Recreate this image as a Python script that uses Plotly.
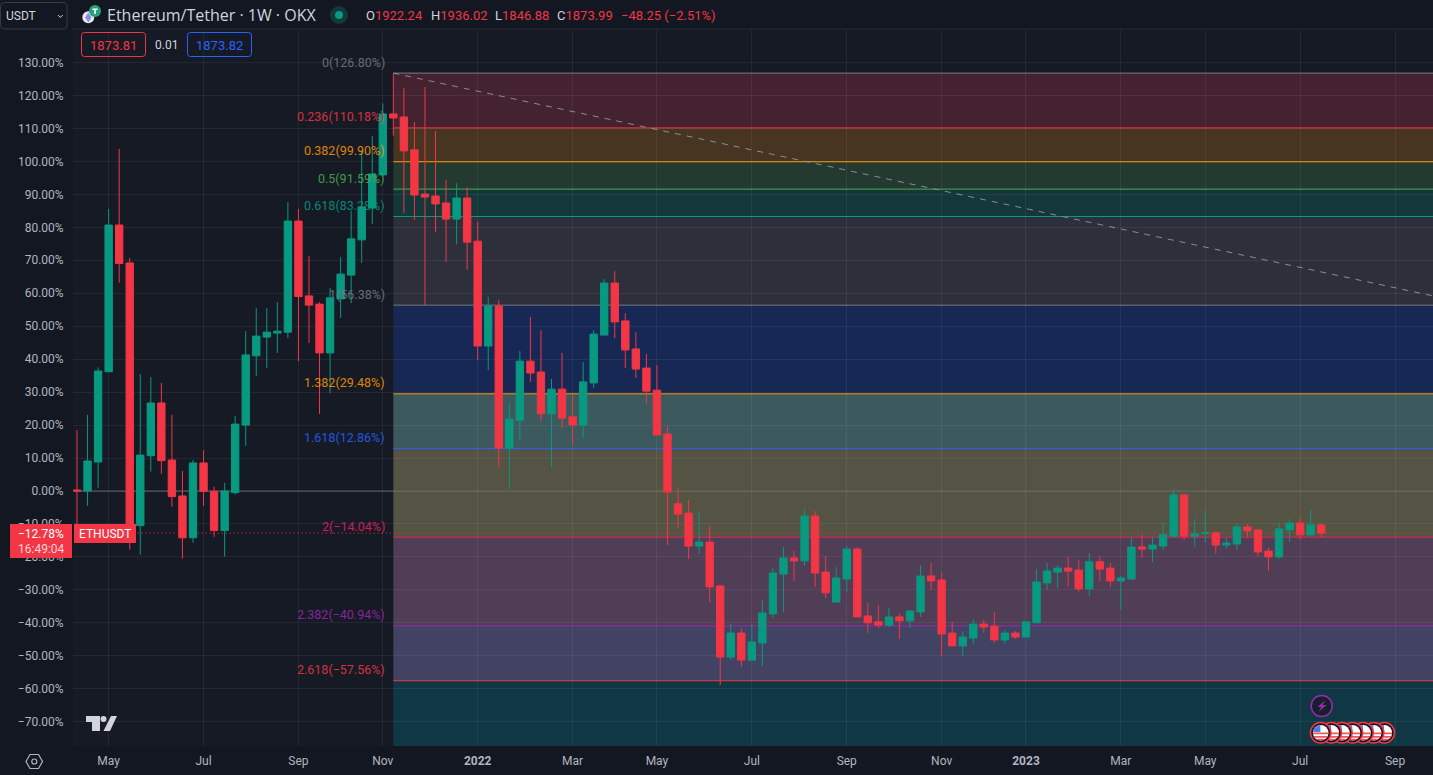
import math

import pandas as pd
import plotly.graph_objects as go

# weekly candles, % change from the first bar
first_week = "2021-04-12"
opens = [0.3, 0, 8.8, 36.2, 80.7, 69.2, -10.5, 10.7, 26.7, 9.4,
         -1.5, -14.2, 8.5, -0.1, -12, -0.5, 20, 41, 46.7, 47.9,
         48.2, 81.9, 59.2, 56.7, 41.9, 58.3, 65.5, 76.2, 85.9, 95.9,
         114.4, 113.5, 103.5, 90.1, 89.5, 87.4, 82.5, 88.9, 75.8, 44,
         56.1, 13, 21.5, 39.4, 36.1, 23.4, 30.9, 22.5, 20, 32.8,
         47.3, 63.1, 51.6, 43.1, 37.3, 30.6, 17.3, -3.9, -6.7, -16.7,
         -15.5, -28.8, -50.4, -43.1, -51.3, -46.1, -37.3, -25.2, -20.3, -21.2,
         -7.6, -24.6, -33.7, -26.7, -17.6, -37.9, -39.7, -40.7, -38.2, -39.4,
         -36.7, -25.8, -27, -43.1, -47, -44.6, -40.4, -41, -45.2, -43.1,
         -44.3, -40, -27.9, -24.6, -23.4, -24, -29.7, -21.5, -23.4, -27.3,
         -26.7, -17, -17.6, -16.7, -13.7, -1.2, -13.7, -12.9, -12.7, -16.4,
         -16.1, -10.9, -11.8, -18.2, -20, -11.8, -9.7, -13.3, -10.3]
highs = [18.5, 23.1, 37.5, 85.6, 103.8, 70.7, 35.5, 34.6, 32.8, 23.1,
         6.1, 9.4, 12.4, 1.3, 2.5, 22.8, 48.5, 55.5, 55.5, 57.3,
         87.7, 85.6, 71.3, 57.3, 61.6, 71, 85, 103.5, 107.7, 117.6,
         126.7, 122.3, 112, 122.6, 109.2, 94.4, 93.4, 92.2, 81.6, 58.9,
         57.9, 26.7, 42.5, 52.8, 48.8, 34, 41.9, 29.1, 39.1, 48.8,
         64.3, 66.7, 54, 48.2, 41.6, 38.2, 19.7, 0.9, -2.7, -6.1,
         -10.6, -28.5, -40.4, -41.6, -40.4, -33.1, -23.4, -17, -18.2, -5.5,
         -6.1, -19.7, -23.1, -16.7, -17, -34, -34.6, -35.5, -37.3, -36.1,
         -22.5, -21.8, -24.9, -39.7, -42.5, -38.8, -39.1, -36.7, -42.2, -42.5,
         -39.4, -23.7, -21.8, -22.5, -20, -20.9, -18.8, -19.7, -21.8, -25.8,
         -14, -13.3, -14, -9.4, 0.6, -0.9, -8.5, -5.8, -12.1, -14,
         -9.7, -10, -11.5, -17.3, -9.7, -8.5, -7.9, -5.5, -9.7]
lows = [-11, -4.5, 1, 36.2, 63.2, -17.8, -19.3, 5.9, 5.2, -4.8,
        -20.5, -15.7, -4.5, -13.9, -19.9, -1.1, 13.7, 34.9, 37.3, 41.9,
        46.4, 39.4, 44.9, 23.4, 29.7, 52.5, 57, 69.2, 81, 95.5,
        107.8, 84.3, 82.2, 56.4, 78.6, 69.5, 74.9, 67.1, 39.7, 36.7,
        7, 0.6, 15.5, 33.1, 21.2, 7.3, 19.1, 14, 16.1, 31.3,
        47.3, 46.4, 37.3, 34.3, 26.4, 17, -16.4, -11.2, -20.6, -19.1,
        -33.7, -58.9, -51.3, -53.4, -51.3, -53.1, -38.5, -36.7, -27.3, -22.8,
        -29.1, -32.5, -33.7, -30.6, -38.2, -43.1, -41.6, -41.3, -44.9, -41.6,
        -38.2, -30, -50.1, -47, -50.1, -46.4, -43.1, -46.1, -46.4, -44.9,
        -44.3, -40, -30, -29.4, -28.8, -30.6, -31.9, -27.3, -29.1, -36.1,
        -27, -20.3, -21.5, -17.9, -14, -14.9, -17, -15.8, -19.1, -17.6,
        -17.9, -14.3, -20, -24.3, -20.6, -15.5, -14.9, -14, -14]
closes = [0, 9.1, 36.4, 80.7, 69, -10.5, 10.9, 26.7, 9.2, -1.7,
          -14.2, 8.5, -0.1, -12, 0, 20.3, 41.3, 47, 48.2, 48.5,
          81.9, 59, 56.4, 41.9, 58.6, 65.8, 76.5, 86.2, 96.2, 114.4,
          113.2, 103.2, 89.8, 89.2, 87.1, 82.5, 88.9, 75.5, 44, 56.1,
          13, 21.8, 39.4, 35.8, 23.4, 30.9, 22.1, 20, 33.1, 47.6,
          63.1, 51.3, 42.8, 37, 30.3, 17, -0.3, -7, -16.7, -15.5,
          -29.1, -50.4, -43.1, -51.3, -45.8, -37, -24.9, -20.3, -21.2, -7.6,
          -24.9, -30.9, -26.4, -17.6, -38.2, -40, -40.7, -38.2, -39.4, -36.4,
          -25.8, -27.3, -43.4, -47, -44.3, -40.4, -41.3, -45.2, -43.1, -44.3,
          -39.7, -27.6, -24.3, -23.4, -24.3, -29.7, -21.5, -23.7, -27.3, -26.4,
          -17, -17.6, -16.4, -13.3, -1.2, -13.7, -13, -12.7, -16.4, -15.8,
          -10.9, -12.1, -18.5, -20, -11.5, -9.7, -13.3, -10.3, -12.8]

# fib levels on the right part of the chart
fib_ratios = ["0", "0.236", "0.382", "0.5", "0.618", "1", "1.382", "1.618", "2", "2.382", "2.618"]
fib_values = [126.80, 110.18, 99.90, 91.59, 83.28, 56.38, 29.48, 12.86, -14.04, -40.94, -57.56]
fib_colors = ["#787B86", "#F23645", "#FF9800", "#4CAF50", "#089981", "#787B86",
              "#FF9800", "#2962FF", "#E91E63", "#9C27B0", "#F23645"]
zone_colors = ["#44222F", "#473521", "#243A30", "#14373A", "#2D303B", "#182854",
               "#3C5A5E", "#545344", "#4F3E55", "#424262", "#103844"]

# axes
y_ticks = list(range(-70, 140, 10))
y_labels = [f"{v:.2f}%".replace("-", "\u2212") for v in y_ticks]
x_ticks = ["2021-05-03", "2021-07-05", "2021-09-06", "2021-11-01", "2022-01-03", "2022-03-07",
           "2022-05-02", "2022-07-04", "2022-09-05", "2022-11-07", "2023-01-02", "2023-03-06",
           "2023-05-01", "2023-07-03", "2023-09-04"]
x_labels = ["May", "Jul", "Sep", "Nov", "<b>2022</b>", "Mar", "May", "Jul", "Sep", "Nov",
            "<b>2023</b>", "Mar", "May", "Jul", "Sep"]

# header readout
ohlc_names = ["O", "H", "L", "C"]
ohlc_values = ["1922.24", "1936.02", "1846.88", "1873.99"]
change_text = "\u221248.25 (\u22122.51%)"

last_pct = -12.78
trend_end = 59.2  # where the dashed line leaves the chart

dates = pd.date_range(first_week, periods=len(closes), freq="7D")
x_left = pd.Timestamp(first_week) - pd.Timedelta(weeks=0.38)
x_right = pd.Timestamp(first_week) + pd.Timedelta(weeks=128.6)
y_top, y_bottom = 139.87, -77.37

W, H = 1433, 775
BG = "#161A25"
AXIS_BG = "#131722"
GRID = "rgba(255,255,255,0.06)"
TEXT = "#B2B5BE"
RED = "#F23645"
GREEN = "#089981"
BLUE = "#2962FF"
FONT = "Roboto"


def px(x):
    return x / W


def py(y):
    return 1 - y / H


shapes = []
notes = []


def poly(points, fill=None, line=None, width=1, close=True):
    path = "M " + " L ".join(f"{px(x):.5f} {py(y):.5f}" for x, y in points) + (" Z" if close else "")
    shapes.append(dict(type="path", path=path, xref="paper", yref="paper", layer="above",
                       fillcolor=fill, line=dict(color=line or "rgba(0,0,0,0)", width=width)))


def disc(x, y, r, fill=None, line=None, width=1):
    shapes.append(dict(type="circle", xref="paper", yref="paper", layer="above",
                       x0=px(x - r), x1=px(x + r), y0=py(y + r), y1=py(y - r),
                       fillcolor=fill, line=dict(color=line or "rgba(0,0,0,0)", width=width)))


def rbox(x0, y0, x1, y1, r=3, fill=None, line=None):
    path = (f"M {px(x0 + r):.5f} {py(y0):.5f} L {px(x1 - r):.5f} {py(y0):.5f} "
            f"Q {px(x1):.5f} {py(y0):.5f} {px(x1):.5f} {py(y0 + r):.5f} "
            f"L {px(x1):.5f} {py(y1 - r):.5f} Q {px(x1):.5f} {py(y1):.5f} {px(x1 - r):.5f} {py(y1):.5f} "
            f"L {px(x0 + r):.5f} {py(y1):.5f} Q {px(x0):.5f} {py(y1):.5f} {px(x0):.5f} {py(y1 - r):.5f} "
            f"L {px(x0):.5f} {py(y0 + r):.5f} Q {px(x0):.5f} {py(y0):.5f} {px(x0 + r):.5f} {py(y0):.5f} Z")
    shapes.append(dict(type="path", path=path, xref="paper", yref="paper", layer="above",
                       fillcolor=fill, line=dict(color=line or "rgba(0,0,0,0)", width=1)))


def label(x, y, text, color=TEXT, size=12, anchor="left", family=FONT):
    notes.append(dict(x=px(x), y=py(y), xref="paper", yref="paper", text=text, showarrow=False,
                      xanchor=anchor, yanchor="middle", font=dict(family=family, size=size, color=color)))


# fib zones and lines, shapes on the "below" layer stay under the grid
zone_edges = fib_values + [y_bottom]
for i, col in enumerate(zone_colors):
    shapes.append(dict(type="rect", xref="x", yref="y", layer="below", x0=dates[30], x1=x_right,
                       y0=zone_edges[i], y1=zone_edges[i + 1], fillcolor=col, line_width=0))
for i, val in enumerate(fib_values):
    shapes.append(dict(type="line", xref="x", yref="y", layer="below", x0=dates[30], x1=x_right,
                       y0=val, y1=val, line=dict(color=fib_colors[i], width=1)))
    txt = f"{fib_ratios[i]}({val:.2f}%)".replace("-", "\u2212")
    notes.append(dict(x=px(386.5), xref="paper", y=val, yref="y", yshift=11, text=txt, showarrow=False,
                      xanchor="right", yanchor="middle", opacity=0.85,
                      font=dict(family=FONT, size=12.5, color=fib_colors[i])))

# zero line, paler where it runs over the fib zones
shapes.append(dict(type="line", xref="x", yref="y", layer="below", x0=x_left, x1=dates[30], y0=0, y1=0,
                   line=dict(color="#5D606B", width=1)))
shapes.append(dict(type="line", xref="x", yref="y", layer="below", x0=dates[30], x1=x_right, y0=0, y1=0,
                   line=dict(color="#66665F", width=1)))

# dashed trend line and dotted last price line
shapes.append(dict(type="line", xref="x", yref="y", layer="below", x0=dates[30], x1=x_right,
                   y0=fib_values[0], y1=trend_end, line=dict(color="#8A8D96", width=1, dash="6px,6px")))
shapes.append(dict(type="line", xref="x", yref="y", layer="below", x0=dates[5], x1=x_right,
                   y0=last_pct, y1=last_pct, line=dict(color=RED, width=1, dash="1px,3px")))

# header
shapes.append(dict(type="line", xref="paper", yref="paper", layer="below", x0=px(73), x1=1, y0=py(29), y1=py(29),
                   line=dict(color="#262A35", width=1)))
rbox(0.5, 2.5, 67, 29, r=4, line="#363A45")
label(4, 16, "USDT", "#D1D4DC", 12)
poly([(58, 15), (60.3, 17.5), (62.7, 15)], line="#D1D4DC", close=False)

disc(88.3, 17.3, 6, "#E8E8F0")
poly([(88.3, 12.5), (91.5, 17.5), (88.3, 22.5), (85.1, 17.5)], fill="#8C8CE8")
disc(95, 11, 6, "#26A17B")
poly([(92.5, 8.5), (97.5, 8.5), (97.5, 10), (95.8, 10), (95.8, 14), (94.2, 14), (94.2, 10), (92.5, 10)], fill="#FFFFFF")
label(104.5, 15, "Ethereum/Tether \u00b7 1W \u00b7 OKX", "#D1D4DC", 16, family="Open Sans")
disc(339, 15, 9, "#12383A")
disc(339, 15, 4, GREEN)

for i, x_pos in enumerate([363.5, 428.5, 492.5, 554.5]):
    label(x_pos, 16, f'<span style="color:#D1D4DC">{ohlc_names[i]}</span>{ohlc_values[i]}', RED, 13)
label(618.5, 16, change_text, RED, 13)

rbox(81.5, 32.5, 145.5, 56.5, line=RED)
label(113.5, 45, "1873.81", RED, 13, "center")
label(166, 45, "0.01", "#D1D4DC", 12, "center")
rbox(187.5, 32.5, 251.5, 56.5, line=BLUE)
label(219.5, 45, "1873.82", BLUE, 13, "center")

# last price tags, these sit on top of the tick labels
shapes.append(dict(type="rect", xref="paper", yref="paper", layer="above", x0=px(10), x1=px(72), y0=py(558), y1=py(524),
                   fillcolor=RED, line_width=0))
shapes.append(dict(type="rect", xref="paper", yref="paper", layer="above", x0=px(74), x1=px(136), y0=py(543), y1=py(524),
                   fillcolor=RED, line_width=0))
label(41, 533.5, f"{last_pct:.2f}%".replace("-", "\u2212"), "#FFFFFF", 12, "center")
label(41, 549, "16:49:04", "#FAD4D8", 12, "center")
label(105, 533.5, "ETHUSDT", "#FFFFFF", 12, "center")

# gear
hexa = [(26, 761.5), (30, 754.5), (38.5, 754.5), (42.5, 761.5), (38.5, 768.5), (30, 768.5)]
poly(hexa, line=TEXT, width=1.2)
disc(34.3, 761.5, 2.5, line=TEXT, width=1.2)

# TV logo
LOGO = "#D1D4DC"
poly([(86, 716), (100, 716), (100, 731), (92, 731), (92, 722), (86, 722)], fill=LOGO)
disc(103.5, 719, 3, LOGO)
poly([(111, 716), (117, 716), (110, 731), (103.5, 731)], fill=LOGO)

# event icons, lower right
disc(1321.7, 706, 10.5, "#14202C", "#9C27B0", 1.5)
poly([(1325.5, 700), (1317.5, 707), (1321.3, 707), (1318.5, 712), (1326.5, 705), (1322.5, 705)], fill="#9C27B0")

for n in range(6, -1, -1):
    cx, cy = 1320.7 + n * 10.6, 732.7
    disc(cx, cy, 10.2, "#131722", RED, 1.5)
    disc(cx, cy, 7.8, "#FFFFFF")
    for top, bot in [(-0.2, 1.6), (3.2, 5), (6, 7.6)]:
        a = math.sqrt(7.8 ** 2 - max(abs(top), abs(bot)) ** 2)
        b = math.sqrt(7.8 ** 2 - min(abs(top), abs(bot)) ** 2)
        left_top, left_bot = (a, b) if abs(top) > abs(bot) else (b, a)
        poly([(cx - left_top, cy + top), (cx + left_top, cy + top), (cx + left_bot, cy + bot), (cx - left_bot, cy + bot)],
             fill="#F4525C")
    poly([(cx - 6.5, cy - 4.5), (cx - 3.5, cy - 6.8), (cx - 0.3, cy - 7.6), (cx - 0.3, cy - 0.8), (cx - 7.7, cy - 0.8)], fill="#4A7FE0")

fig = go.Figure(go.Candlestick(
    x=dates, open=opens, high=highs, low=lows, close=closes,
    increasing=dict(line=dict(color=GREEN, width=1), fillcolor=GREEN),
    decreasing=dict(line=dict(color=RED, width=1), fillcolor=RED),
    whiskerwidth=0,
))

fig.update_layout(
    width=W, height=H,
    margin=dict(l=0, r=0, t=0, b=0),
    paper_bgcolor=AXIS_BG,
    plot_bgcolor=BG,
    showlegend=False,
    boxgap=0.3,
    boxgroupgap=0,
    font=dict(family=FONT, size=12, color=TEXT),
    shapes=shapes,
    annotations=notes,
)
fig.update_xaxes(
    domain=[73 / W, 1], range=[x_left, x_right], rangeslider_visible=False,
    tickmode="array", tickvals=x_ticks, ticktext=x_labels,
    showgrid=True, gridcolor=GRID, gridwidth=1, zeroline=False, showline=False,
    ticks="outside", ticklen=4, tickcolor="rgba(0,0,0,0)",
)
fig.update_yaxes(
    domain=[29 / H, 745 / H], range=[y_bottom, y_top],
    tickmode="array", tickvals=y_ticks, ticktext=y_labels,
    showgrid=True, gridcolor=GRID, gridwidth=1, zeroline=False, showline=False,
    ticks="outside", ticklen=6, tickcolor="rgba(0,0,0,0)",
)

fig.write_html("out.html", config={"displayModeBar": False},
               post_script="document.body.style.margin='0';document.body.style.overflow='hidden';")
